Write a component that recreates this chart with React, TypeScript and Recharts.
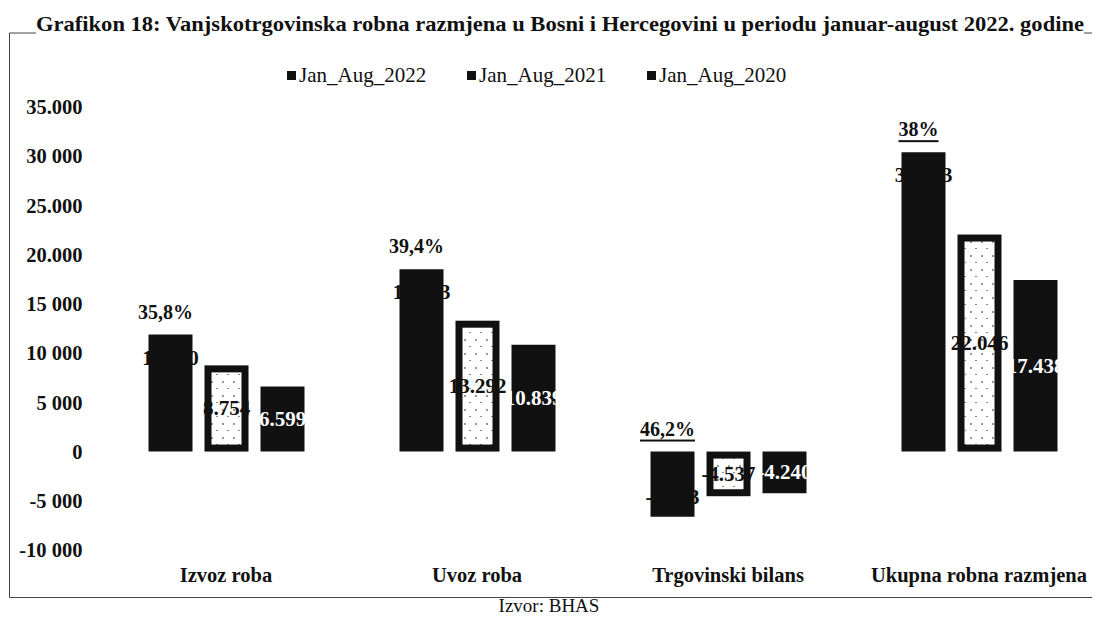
import { Bar, BarChart, XAxis, YAxis, LabelList } from "recharts";

const categories = ["Izvoz roba", "Uvoz roba", "Trgovinski bilans", "Ukupna robna razmjena"];
const jan2022 = [11890, 18523, -6633, 30413];
const jan2021 = [8754, 13292, -4537, 22046];
const jan2020 = [6599, 10839, -4240, 17438];
const growth = ["35,8%", "39,4%", "46,2%", "38%"];
const growthUnderlined = [false, false, true, true];
const seriesNames = ["Jan_Aug_2022", "Jan_Aug_2021", "Jan_Aug_2020"];
const yTicks = [35000, 30000, 25000, 20000, 15000, 10000, 5000, 0, -5000, -10000];
const yTickLabels = ["35.000", "30 000", "25.000", "20.000", "15 000", "10 000", "5 000", "0", "-5 000", "-10 000"];

const title =
  "Grafikon 18: Vanjskotrgovinska robna razmjena u Bosni i Hercegovini u periodu januar-august 2022. godine";

const FONT = '"Liberation Serif", "Times New Roman", serif';
const INK = "#111";

const chartData = categories.map((name, i) => ({
  name,
  y2022: jan2022[i],
  y2021: jan2021[i],
  y2020: jan2020[i],
}));

function fmt(v: number) {
  const s = Math.abs(v).toString().replace(/\B(?=(\d{3})+(?!\d))/g, ".");
  return (v < 0 ? "-" : "") + s;
}

function box(props: any) {
  const { x, y, width, height } = props;
  const top = Math.min(y, y + height);
  return { x, top, bottom: top + Math.abs(height), width, cx: x + width / 2 };
}

// 2022: value label inside the end of the bar (black on black), growth % above
function Label2022(props: any) {
  const { value, index } = props;
  const b = box(props);
  const labelY = value >= 0 ? b.top + 23 : b.bottom - 20;
  return (
    <g>
      <text x={b.cx} y={labelY} textAnchor="middle" dominantBaseline="central"
        fontFamily={FONT} fontWeight="bold" fontSize={21} fill={INK}>
        {fmt(value)}
      </text>
      <text x={b.cx - 5} y={b.top - 23} textAnchor="middle" dominantBaseline="central"
        fontFamily={FONT} fontWeight="bold" fontSize={20} fill={INK}
        textDecoration={growthUnderlined[index] ? "underline" : undefined}>
        {growth[index]}
      </text>
    </g>
  );
}

function CenterLabel(color: string) {
  return (props: any) => {
    const b = box(props);
    return (
      <text x={b.cx} y={(b.top + b.bottom) / 2} textAnchor="middle" dominantBaseline="central"
        fontFamily={FONT} fontWeight="bold" fontSize={21} fill={color}>
        {fmt(props.value)}
      </text>
    );
  };
}

function OutlinedBar(props: any) {
  const b = box(props);
  const sw = 7;
  return (
    <rect x={b.x + sw / 2} y={b.top + sw / 2} width={b.width - sw} height={b.bottom - b.top - sw}
      fill="url(#speckle)" stroke={INK} strokeWidth={sw} />
  );
}

export default function App() {
  return (
    <div style={{ position: "relative", width: 1095, height: 617, overflow: "hidden", background: "#fff", fontFamily: FONT }}>
      <style>{"body{margin:0}"}</style>

      <svg width={1095} height={617} style={{ position: "absolute", left: 0, top: 0 }}>
        <defs>
          <pattern id="speckle" width={11} height={14} patternUnits="userSpaceOnUse">
            <rect width={11} height={14} fill="#fff" />
            <circle cx={3} cy={4} r={0.9} fill="#666" />
            <rect x={7} y={10} width={2} height={1} fill="#888" />
          </pattern>
        </defs>
        <path d="M9.5 33 L9.5 597.5 L1092 597.5" fill="none" stroke="#444" strokeWidth={1} />
        <path d="M9.5 33 L36 33 M1084 33 L1092 33" fill="none" stroke="#444" strokeWidth={1} />
        <text x={36} y={31} textLength={1048} lengthAdjust="spacingAndGlyphs"
          fontFamily={FONT} fontWeight="bold" fontSize={22} fill={INK}>
          {title}
        </text>
        <text x={549} y={612} textAnchor="middle" fontFamily={FONT} fontSize={19} fill={INK}>
          Izvor: BHAS
        </text>
      </svg>

      <div style={{ position: "absolute", left: 287, top: 63, display: "flex", fontSize: 21, color: INK }}>
        {seriesNames.map((n) => (
          <div key={n} style={{ display: "flex", alignItems: "center", width: 180 }}>
            <span style={{ display: "inline-block", width: 9, height: 9, background: INK, marginRight: 3 }} />
            <span>{n}</span>
          </div>
        ))}
      </div>

      <div style={{ position: "absolute", left: 0, top: 0 }}>
        <BarChart width={1110} height={617} data={chartData}
          margin={{ top: 107, right: 5.5, bottom: 27, left: 10.5 }}
          barSize={44} barGap={12}>
          <XAxis dataKey="name" axisLine={false} tickLine={false} tickSize={0} tickMargin={17} height={40}
            interval={0} tick={{ fontFamily: FONT, fontSize: 20.5, fontWeight: "bold", fill: INK }} />
          <YAxis domain={[-10000, 35000]} ticks={yTicks} interval={0} width={90}
            axisLine={false} tickLine={false} tickSize={0} tickMargin={18}
            tickFormatter={(v: number) => yTickLabels[yTicks.indexOf(v)] ?? String(v)}
            tick={{ fontFamily: FONT, fontSize: 20.5, fontWeight: "bold", fill: INK }} />
          <Bar dataKey="y2022" name={seriesNames[0]} fill={INK} isAnimationActive={false}>
            <LabelList dataKey="y2022" content={Label2022} />
          </Bar>
          <Bar dataKey="y2021" name={seriesNames[1]} shape={OutlinedBar} isAnimationActive={false}>
            <LabelList dataKey="y2021" content={CenterLabel(INK)} />
          </Bar>
          <Bar dataKey="y2020" name={seriesNames[2]} fill={INK} isAnimationActive={false}>
            <LabelList dataKey="y2020" content={CenterLabel("#fff")} />
          </Bar>
        </BarChart>
      </div>
    </div>
  );
}
